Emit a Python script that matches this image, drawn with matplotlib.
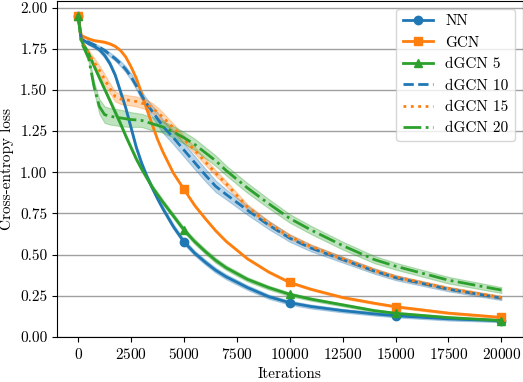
import matplotlib
matplotlib.use("Agg")
import matplotlib.pyplot as plt
import numpy as np

plt.rcParams['font.family'] = ['cmr10', 'DejaVu Serif']
plt.rcParams['mathtext.fontset'] = 'cm'
plt.rcParams['axes.formatter.use_mathtext'] = True
plt.rcParams['font.size'] = 11

iterations = [0, 150, 500, 750, 1000, 1250, 1500, 1750, 2000, 2250, 2500, 2750, 3000, 3250, 3500, 3750, 4000, 4500,
              5000, 5500, 6000, 6500, 7000, 8000, 9000, 10000, 11000, 12500, 14000, 15000, 17500, 20000]

nn = [1.95, 1.81, 1.78, 1.765, 1.745, 1.71, 1.66, 1.59, 1.49, 1.39, 1.27, 1.15, 1.055, 0.975, 0.905, 0.84, 0.78, 0.67,
      0.578, 0.51, 0.455, 0.405, 0.365, 0.30, 0.245, 0.208, 0.185, 0.16, 0.14, 0.129, 0.11, 0.099]
nn_spread = [0.003, 0.005, 0.008, 0.01, 0.012, 0.015, 0.015, 0.015, 0.015, 0.015, 0.015, 0.015, 0.015, 0.015, 0.015, 0.015, 0.015, 0.015,
             0.015, 0.015, 0.015, 0.015, 0.015, 0.014, 0.013, 0.012, 0.012, 0.011, 0.01, 0.01, 0.01, 0.009]

gcn = [1.95, 1.83, 1.81, 1.80, 1.795, 1.79, 1.78, 1.765, 1.74, 1.70, 1.64, 1.57, 1.48, 1.38, 1.29, 1.20, 1.125, 0.995,
       0.897, 0.80, 0.72, 0.645, 0.58, 0.475, 0.395, 0.331, 0.29, 0.24, 0.205, 0.184, 0.145, 0.119]
gcn_spread = [0.003, 0.005, 0.006, 0.006, 0.006, 0.006, 0.006, 0.006, 0.006, 0.006, 0.006, 0.006, 0.006, 0.006, 0.006, 0.006, 0.006, 0.006,
              0.006, 0.006, 0.006, 0.006, 0.006, 0.006, 0.006, 0.006, 0.006, 0.006, 0.006, 0.006, 0.006, 0.006]

dgcn5 = [1.95, 1.80, 1.72, 1.645, 1.575, 1.505, 1.435, 1.365, 1.295, 1.22, 1.15, 1.08, 1.02, 0.965, 0.91, 0.865, 0.82, 0.735,
         0.650, 0.58, 0.52, 0.465, 0.42, 0.35, 0.30, 0.259, 0.23, 0.195, 0.16, 0.144, 0.118, 0.10]
dgcn5_spread = [0.003, 0.008, 0.012, 0.015, 0.015, 0.015, 0.015, 0.015, 0.015, 0.015, 0.015, 0.015, 0.015, 0.015, 0.015, 0.015, 0.015, 0.015,
                0.015, 0.015, 0.015, 0.015, 0.014, 0.013, 0.012, 0.011, 0.01, 0.009, 0.008, 0.008, 0.007, 0.007]

dgcn10 = [1.95, 1.81, 1.79, 1.775, 1.76, 1.74, 1.715, 1.69, 1.66, 1.625, 1.58, 1.525, 1.465, 1.415, 1.37, 1.325, 1.28, 1.21,
          1.135, 1.06, 0.985, 0.915, 0.865, 0.77, 0.68, 0.60, 0.54, 0.47, 0.40, 0.36, 0.29, 0.236]
dgcn10_spread = [0.003, 0.005, 0.006, 0.007, 0.008, 0.01, 0.012, 0.014, 0.016, 0.018, 0.02, 0.022, 0.025, 0.03, 0.035, 0.038, 0.04, 0.04,
                 0.04, 0.04, 0.038, 0.035, 0.03, 0.028, 0.025, 0.022, 0.02, 0.018, 0.016, 0.015, 0.013, 0.012]

dgcn15 = [1.95, 1.79, 1.72, 1.67, 1.62, 1.565, 1.51, 1.46, 1.445, 1.44, 1.435, 1.43, 1.42, 1.41, 1.39, 1.365, 1.335, 1.27,
          1.20, 1.135, 1.065, 0.995, 0.93, 0.79, 0.69, 0.61, 0.55, 0.475, 0.405, 0.365, 0.295, 0.24]
dgcn15_spread = [0.003, 0.01, 0.02, 0.025, 0.03, 0.03, 0.03, 0.03, 0.03, 0.03, 0.03, 0.03, 0.03, 0.03, 0.03, 0.03, 0.028, 0.025,
                 0.022, 0.02, 0.02, 0.018, 0.017, 0.016, 0.015, 0.014, 0.013, 0.012, 0.012, 0.011, 0.01, 0.01]

dgcn20 = [1.95, 1.79, 1.69, 1.52, 1.40, 1.35, 1.34, 1.335, 1.33, 1.325, 1.32, 1.318, 1.315, 1.305, 1.295, 1.285, 1.275, 1.245,
          1.21, 1.17, 1.12, 1.07, 1.01, 0.905, 0.81, 0.72, 0.65, 0.555, 0.47, 0.43, 0.345, 0.285]
dgcn20_spread = [0.003, 0.01, 0.02, 0.03, 0.045, 0.05, 0.05, 0.05, 0.05, 0.048, 0.045, 0.042, 0.04, 0.04, 0.04, 0.037, 0.035, 0.035,
                 0.035, 0.035, 0.033, 0.032, 0.03, 0.03, 0.028, 0.026, 0.025, 0.024, 0.022, 0.021, 0.02, 0.018]

marker_x = [0, 5000, 10000, 15000, 20000]

C_BLUE, C_ORANGE, C_GREEN = '#1f77b4', '#ff7f0e', '#2ca02c'

series = [
    ("NN", nn, nn_spread, C_BLUE, '-', 'o'),
    ("GCN", gcn, gcn_spread, C_ORANGE, '-', 's'),
    ("dGCN 5", dgcn5, dgcn5_spread, C_GREEN, '-', '^'),
    ("dGCN 10", dgcn10, dgcn10_spread, C_BLUE, '--', None),
    ("dGCN 15", dgcn15, dgcn15_spread, C_ORANGE, ':', None),
    ("dGCN 20", dgcn20, dgcn20_spread, C_GREEN, '-.', None),
]

fig = plt.figure(figsize=(5.23, 3.82), dpi=100)
ax = fig.add_axes([57/523, 1 - 337/382, (522.5 - 57)/523, (337 - 1)/382])

x = np.array(iterations)
mk_idx = [iterations.index(v) for v in marker_x]
for name, y, s, c, ls, mk in series:
    y = np.array(y); s = np.array(s)
    ax.fill_between(x, y - s, y + s, color=c, alpha=0.3, lw=0.8)
    ax.plot(x, y, color=c, ls=ls, lw=2, marker=mk, markersize=6,
            markevery=mk_idx if mk else None, label=name)

ax.set_xlim(-1000, 21000)
ax.set_ylim(0, 2.04)
ax.set_xticks(np.arange(0, 20001, 2500))
ax.set_yticks(np.arange(0, 2.01, 0.25))
ax.yaxis.set_major_formatter(matplotlib.ticker.FormatStrFormatter('%.2f'))
ax.grid(axis='y', color='#a0a0a0', lw=1)
ax.set_axisbelow(True)
ax.set_xlabel("Iterations")
ax.set_ylabel("Cross-entropy loss")
ax.legend(loc='upper right')

fig.savefig("out.png", dpi=100)
